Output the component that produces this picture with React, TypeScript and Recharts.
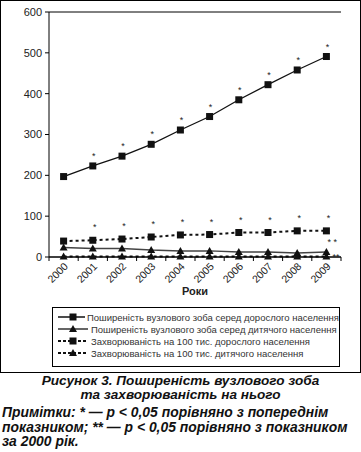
import React from "react";
import { LineChart, Line, XAxis, YAxis, CartesianGrid, LabelList } from "recharts";

const years = ["2000", "2001", "2002", "2003", "2004", "2005", "2006", "2007", "2008", "2009"];
const adultPrevalence = [197, 223, 247, 276, 311, 344, 385, 422, 458, 491];
const childPrevalence = [23, 21, 21, 17, 15, 15, 12, 12, 10, 12];
const adultIncidence = [39, 41, 44, 49, 54, 55, 60, 60, 64, 64];
const childIncidence = [1, 1, 1, 1, 1, 1, 1, 1, 1, 1];
const adultPrevStars = ["", "*", "*", "*", "*", "*", "*", "*", "*", "*"];
const adultIncStars = ["", "*", "*", "*", "*", "*", "*", "*", "*", "*"];
const childPrevStars = ["", "", "", "", "", "", "", "", "", "* *"];
const childIncStars = ["", "", "", "", "", "", "", "", "", "**"];
const yTicks = [0, 100, 200, 300, 400, 500, 600];

const seriesNames = [
  "Поширеність вузлового зоба серед дорослого населення",
  "Поширеність вузлового зоба серед дитячого населення",
  "Захворюваність на 100 тис. дорослого населення",
  "Захворюваність на 100 тис. дитячого населення",
];

const data = years.map((year, i) => ({
  year,
  adultPrev: adultPrevalence[i],
  childPrev: childPrevalence[i],
  adultInc: adultIncidence[i],
  childInc: childIncidence[i],
  sAdultPrev: adultPrevStars[i],
  sAdultInc: adultIncStars[i],
  sChildPrev: childPrevStars[i],
  sChildInc: childIncStars[i],
}));

const FONT = '"Liberation Sans", Arial, sans-serif';

const Square = (props: any) => {
  const { cx, cy } = props;
  if (cx == null || cy == null) return null;
  return <rect x={cx - 3.5} y={cy - 3.5} width={7} height={7} fill="#111" />;
};

const Triangle = (props: any) => {
  const { cx, cy } = props;
  if (cx == null || cy == null) return null;
  return <path d={`M${cx - 4},${cy + 3} L${cx + 4},${cy + 3} L${cx},${cy - 4} Z`} fill="#111" />;
};

const starLabel = (dx: number, dy: number, anchor: string) => (props: any) => {
  const { x, y, value } = props;
  if (!value) return null;
  return (
    <text x={x + dx} y={y + dy} fontSize={9} fontFamily={FONT} fill="#222" textAnchor={anchor}>
      {value}
    </text>
  );
};

const YearTick = (props: any) => {
  const { x, y, payload, index } = props;
  const half = payload.offset || 14.6;
  return (
    <g>
      {index === 0 && <line x1={x - half} y1={y} x2={x - half} y2={y + 4} stroke="#000" />}
      <line x1={x + half} y1={y} x2={x + half} y2={y + 4} stroke="#000" />
      <text
        x={x + 5}
        y={y + 10}
        fontSize={10.5}
        fontFamily={FONT}
        fill="#222"
        textAnchor="end"
        transform={`rotate(-45 ${x + 5} ${y + 10})`}
      >
        {payload.value}
      </text>
    </g>
  );
};

function LegendSample({ kind }: { kind: number }) {
  const dashed = kind >= 2;
  const tri = kind % 2 === 1;
  return (
    <svg width={32} height={10} style={{ display: "block" }}>
      <line
        x1={1}
        y1={5}
        x2={31}
        y2={5}
        stroke={kind === 1 ? "#333" : "#111"}
        strokeWidth={dashed ? 2 : 1.5}
        strokeDasharray={dashed ? "3 2" : undefined}
      />
      {tri ? (
        <path d="M12,8 L20,8 L16,1 Z" fill="#111" />
      ) : (
        <rect x={12.5} y={1.5} width={7} height={7} fill="#111" />
      )}
    </svg>
  );
}

export default function App() {
  return (
    <div style={{ position: "absolute", left: 0, top: 0, width: 361, height: 452, background: "#fff", overflow: "hidden" }}>
      <div
        style={{
          position: "absolute",
          left: 0,
          top: 0,
          width: 361,
          height: 373,
          border: "1px solid #000",
          boxSizing: "border-box",
        }}
      />
      <div style={{ position: "absolute", left: 0, top: 0 }}>
        <LineChart width={361} height={300} data={data} margin={{ top: 12, right: 20, left: 0, bottom: 0 }}>
          <CartesianGrid vertical={false} stroke="#000" strokeWidth={1} />
          <XAxis
            dataKey="year"
            scale="band"
            height={43}
            tickSize={0}
            tickMargin={0}
            axisLine={{ stroke: "#000" }}
            tick={<YearTick />}
            interval={0}
          />
          <YAxis
            yAxisId="l"
            width={49}
            domain={[0, 600]}
            ticks={yTicks}
            tickSize={4}
            tickMargin={3}
            axisLine={{ stroke: "#000" }}
            tickLine={{ stroke: "#000" }}
            tick={{ fontSize: 11, fill: "#222", fontFamily: FONT }}
          />
          <YAxis yAxisId="r" orientation="right" width={0} domain={[0, 600]} tick={false} tickLine={false} axisLine={{ stroke: "#000" }} />
          <Line yAxisId="l" dataKey="adultPrev" stroke="#111" strokeWidth={1.3} dot={<Square />} isAnimationActive={false}>
            <LabelList dataKey="sAdultPrev" content={starLabel(1, -7, "middle")} />
          </Line>
          <Line yAxisId="l" dataKey="adultInc" stroke="#111" strokeWidth={2} strokeDasharray="3 3" dot={<Square />} isAnimationActive={false}>
            <LabelList dataKey="sAdultInc" content={starLabel(2, -10, "middle")} />
          </Line>
          <Line yAxisId="l" dataKey="childPrev" stroke="#444" strokeWidth={1.5} dot={<Triangle />} isAnimationActive={false}>
            <LabelList dataKey="sChildPrev" content={starLabel(1, -7, "start")} />
          </Line>
          <Line yAxisId="l" dataKey="childInc" stroke="#111" strokeWidth={2} strokeDasharray="3 3" dot={<Triangle />} isAnimationActive={false}>
            <LabelList dataKey="sChildInc" content={starLabel(6, 3, "start")} />
          </Line>
        </LineChart>
      </div>
      <div
        style={{
          position: "absolute",
          left: 0,
          width: 390,
          top: 285,
          textAlign: "center",
          fontFamily: FONT,
          fontWeight: "bold",
          fontSize: 11,
          color: "#222",
        }}
      >
        Роки
      </div>
      <div
        style={{
          position: "absolute",
          left: 52,
          top: 307,
          width: 288,
          height: 60,
          border: "1px solid #000",
          boxSizing: "border-box",
          padding: "3px 0 0 4px",
          fontFamily: FONT,
          fontSize: 9.5,
          color: "#333",
        }}
      >
        {seriesNames.map((name, i) => (
          <div key={name} style={{ display: "flex", alignItems: "center", height: 12, whiteSpace: "nowrap" }}>
            <LegendSample kind={i} />
            <span style={{ marginLeft: 2 }}>{name}</span>
          </div>
        ))}
      </div>
      <div
        style={{
          position: "absolute",
          left: 0,
          width: 361,
          top: 374,
          textAlign: "center",
          fontFamily: FONT,
          fontWeight: "bold",
          fontStyle: "italic",
          fontSize: 13.6,
          lineHeight: "14px",
          color: "#111",
        }}
      >
        Рисунок 3. Поширеність вузлового зоба
        <br />
        та захворюваність на нього
      </div>
      <div
        style={{
          position: "absolute",
          left: 2,
          width: 359,
          top: 405,
          fontFamily: FONT,
          fontWeight: "bold",
          fontStyle: "italic",
          fontSize: 13.9,
          lineHeight: "14.5px",
          color: "#111",
          whiteSpace: "nowrap",
        }}
      >
        Примітки: * — p &lt; 0,05 порівняно з попереднім
        <br />
        показником; ** — p &lt; 0,05 порівняно з показником
        <br />
        за 2000 рік.
      </div>
    </div>
  );
}
